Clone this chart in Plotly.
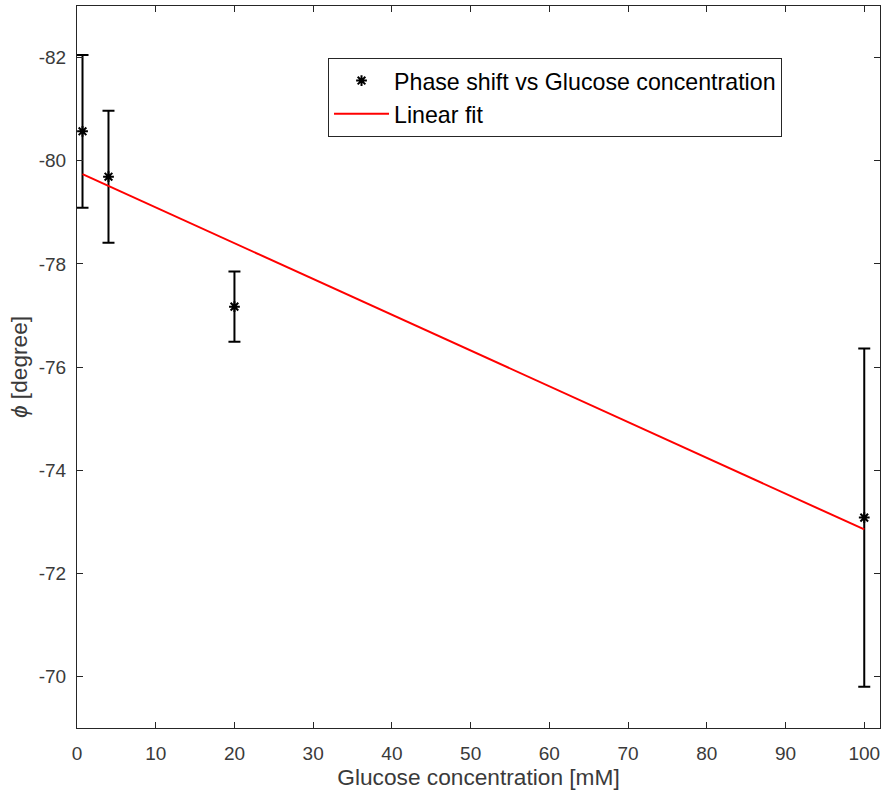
import plotly.graph_objects as go

conc = [0.7, 4, 20, 100]
phase = [-80.57, -79.69, -77.17, -73.08]
err = [1.48, 1.28, 0.68, 3.28]
fit_x = [0.7, 100]
fit_y = [-79.74, -72.85]

x_ticks = [0, 10, 20, 30, 40, 50, 60, 70, 80, 90, 100]
x_labels = ["0", "10", "20", "30", "40", "50", "60", "70", "80", "90", "100"]
y_ticks = [-82, -80, -78, -76, -74, -72, -70]
y_labels = ["-82", "-80", "-78", "-76", "-74", "-72", "-70"]

FONT = "Liberation Sans, Arial, sans-serif"
AX = "#262626"

fig = go.Figure()
fig.add_trace(go.Scatter(
    x=conc, y=phase, mode="markers",
    name="Phase shift vs Glucose concentration",
    marker=dict(symbol="asterisk-open", size=9, color="black",
                line=dict(color="black", width=2)),
    error_y=dict(type="data", array=err, visible=True, color="black",
                 thickness=2, width=6),
))
fig.add_trace(go.Scatter(
    x=fit_x, y=fit_y, mode="lines", name="Linear fit",
    line=dict(color="#ff0000", width=2),
))

axis_common = dict(
    showgrid=False, zeroline=False, showline=True, linecolor=AX, linewidth=1,
    mirror="ticks", ticks="inside", ticklen=6, tickcolor=AX, tickwidth=1,
    tickfont=dict(family=FONT, size=19, color="#3a3a3a"),
)
fig.update_xaxes(range=[0, 102], tickvals=x_ticks, ticktext=x_labels,
                 ticklabelstandoff=8,
                 title=dict(text="Glucose concentration [mM]",
                            font=dict(family=FONT, size=22.7, color="#3a3a3a"), standoff=5),
                 **axis_common)
fig.update_yaxes(range=[-69, -83], tickvals=y_ticks, ticktext=y_labels,
                 ticklabelstandoff=6,
                 title=dict(text="<i>ϕ</i> [degree]",
                            font=dict(family=FONT, size=22.7, color="#3a3a3a"), standoff=4),
                 **axis_common)

fig.update_layout(
    width=883, height=793,
    margin=dict(l=77, r=3, t=6, b=65),
    plot_bgcolor="white", paper_bgcolor="white",
    font=dict(family=FONT),
    legend=dict(x=0.3126, y=0.928, xanchor="left", yanchor="top",
                bgcolor="white", bordercolor=AX, borderwidth=1,
                font=dict(family=FONT, size=23.2, color="black"),
                itemwidth=55, tracegroupgap=0),
)

fig.write_html("out.html")
